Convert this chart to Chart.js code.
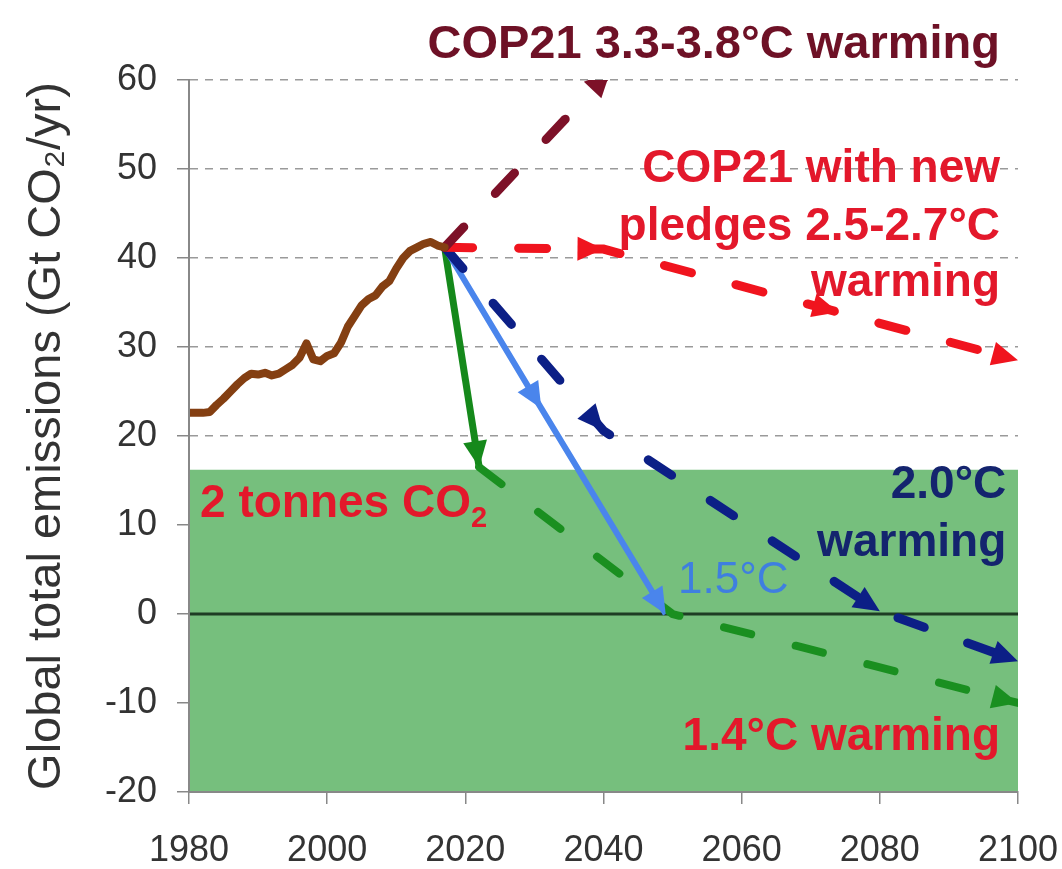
<!DOCTYPE html>
<html><head><meta charset="utf-8">
<script src="https://cdn.jsdelivr.net/npm/chart.js@4.4.0/dist/chart.umd.min.js"></script>
<style>html,body{margin:0;padding:0;background:#fff;}#wrap{width:1062px;height:869px;position:relative;}</style>
</head><body><div id="wrap"><canvas id="c"></canvas></div>
<script>
// ---- data ----
const historyYears = [1980,1981,1982,1983,1984,1985,1986,1987,1988,1989,1990,1991,1992,1993,1994,1995,1996,1997,1998,1999,2000,2001,2002,2003,2004,2005,2006,2007,2008,2009,2010,2011,2012,2013,2014,2015,2016,2017];
const historyValues = [22.6,22.6,22.6,22.7,23.5,24.2,25.0,25.8,26.5,27.0,26.9,27.1,26.8,27.0,27.5,28.0,28.8,30.4,28.6,28.4,29.0,29.3,30.5,32.3,33.5,34.7,35.4,35.8,36.8,37.4,38.8,40.0,40.8,41.2,41.6,41.8,41.4,41.2];
const cop21Years = [2017, 2041];
const cop21Values = [41.2, 61];
const pledgeYears = [2017, 2040, 2074, 2100];
const pledgeValues = [41.2, 41, 33.9, 28.5];
const twoDegYears = [2017, 2040, 2080, 2100];
const twoDegValues = [41.2, 20.6, 0.3, -5.3];
const onePointFiveYears = [2017, 2031, 2049];
const onePointFiveValues = [41.2, 23.1, 0];
const fastCutYears = [2017, 2022];
const fastCutValues = [41.2, 16.5];
const fastTailYears = [2022, 2050, 2100];
const fastTailValues = [16.5, 0, -10];
const budgetBandYears = [1980, 2100];
const budgetBandValues = [16.2, 16.2];
const zeroLineYears = [1980, 2100];
const zeroLineValues = [0, 0];
const xTickValues = [1980, 2000, 2020, 2040, 2060, 2080, 2100];
const yTickValues = [-20, -10, 0, 10, 20, 30, 40, 50, 60];
const yAxisTitle = 'Global total emissions (Gt CO\u2082/yr)';

const pts = (xs, ys) => xs.map((x, i) => ({x: x, y: ys[i]}));
const FONT = "'Liberation Sans', Arial, Helvetica, sans-serif";
Chart.defaults.font.family = FONT;

// text annotations (anchored in data coordinates)
const annotations = [
  {parts:[{t:'COP21 3.3-3.8\u00B0C warming'}], year:2097.4, value:62.5, align:'right', color:'#6e1126', size:47, weight:'bold'},
  {parts:[{t:'COP21 with new'}], year:2097.4, value:48.5, align:'right', color:'#e3182b', size:46, weight:'bold'},
  {parts:[{t:'pledges 2.5-2.7\u00B0C'}], year:2097.4, value:42.0, align:'right', color:'#e3182b', size:46, weight:'bold'},
  {parts:[{t:'warming'}], year:2097.4, value:35.7, align:'right', color:'#e3182b', size:46, weight:'bold'},
  {parts:[{t:'2 tonnes CO'},{t:'2', sub:true}], year:1981.6, value:10.9, align:'left', color:'#e3182b', size:46, weight:'bold'},
  {parts:[{t:'2.0\u00B0C'}], year:2098.3, value:13.0, align:'right', color:'#14246e', size:46, weight:'bold'},
  {parts:[{t:'warming'}], year:2098.3, value:6.5, align:'right', color:'#14246e', size:46, weight:'bold'},
  {parts:[{t:'1.5\u00B0C'}], year:2050.8, value:2.4, align:'left', color:'#3f7fe0', size:44, weight:'normal'},
  {parts:[{t:'1.4\u00B0C warming'}], year:2097.4, value:-15.3, align:'right', color:'#e3182b', size:46, weight:'bold'}
];

const arrowPlugin = {
  id: 'arrows',
  afterDatasetsDraw(chart) {
    const ctx = chart.ctx, a = chart.chartArea;
    ctx.save();
    ctx.beginPath(); ctx.rect(a.left, a.top, a.right - a.left, a.bottom - a.top); ctx.clip();
    chart.data.datasets.forEach((ds, di) => {
      if (!ds.arrowAt) return;
      const meta = chart.getDatasetMeta(di);
      ds.arrowAt.forEach(idx => {
        const p = meta.data[idx], q = meta.data[idx - 1];
        const dx = p.x - q.x, dy = p.y - q.y, len = Math.hypot(dx, dy);
        const ux = dx / len, uy = dy / len;
        const L = ds.arrowLen || 26, W = ds.arrowHalf || 12;
        const bx = p.x - ux * L, by = p.y - uy * L;
        ctx.fillStyle = ds.borderColor;
        ctx.beginPath();
        ctx.moveTo(p.x, p.y);
        ctx.lineTo(bx - uy * W, by + ux * W);
        ctx.lineTo(bx + uy * W, by - ux * W);
        ctx.closePath();
        ctx.fill();
      });
    });
    ctx.restore();
  }
};

const textPlugin = {
  id: 'texts',
  afterDraw(chart) {
    const ctx = chart.ctx, xs = chart.scales.x, ys = chart.scales.y;
    ctx.save();
    ctx.textBaseline = 'alphabetic';
    annotations.forEach(an => {
      const x0 = xs.getPixelForValue(an.year), y0 = ys.getPixelForValue(an.value);
      const widths = an.parts.map(p => {
        ctx.font = an.weight + ' ' + (p.sub ? Math.round(an.size * 0.62) : an.size) + 'px ' + FONT;
        return ctx.measureText(p.t).width;
      });
      const total = widths.reduce((s, w) => s + w, 0);
      let x = an.align === 'right' ? x0 - total : x0;
      ctx.fillStyle = an.color;
      ctx.textAlign = 'left';
      an.parts.forEach((p, i) => {
        ctx.font = an.weight + ' ' + (p.sub ? Math.round(an.size * 0.62) : an.size) + 'px ' + FONT;
        ctx.fillText(p.t, x, p.sub ? y0 + an.size * 0.22 : y0);
        x += widths[i];
      });
    });
    ctx.restore();
  }
};

const dashed = [28, 46];
new Chart(document.getElementById('c'), {
  type: 'line',
  data: {
    datasets: [
      {data: pts(historyYears, historyValues), borderColor: '#843f12', borderWidth: 8, borderJoinStyle: 'round', borderCapStyle: 'round'},
      {data: pts(cop21Years, cop21Values), borderColor: '#7d1128', borderWidth: 9, borderDash: dashed, borderCapStyle: 'round', arrowAt: [1]},
      {data: pts(pledgeYears, pledgeValues), borderColor: '#f0141e', borderWidth: 9, borderDash: dashed, borderCapStyle: 'round', arrowAt: [1, 2, 3]},
      {data: pts(twoDegYears, twoDegValues), borderColor: '#0c1f86', borderWidth: 9, borderDash: dashed, borderCapStyle: 'round', arrowAt: [1, 2, 3]},
      {data: pts(fastTailYears, fastTailValues), borderColor: '#1a8f20', borderWidth: 8, borderDash: dashed, borderCapStyle: 'round', arrowAt: [2]},
      {data: pts(onePointFiveYears, onePointFiveValues), borderColor: '#4a85ec', borderWidth: 6, arrowAt: [1, 2], arrowLen: 26, arrowHalf: 12},
      {data: pts(fastCutYears, fastCutValues), borderColor: '#15891b', borderWidth: 7, arrowAt: [1], arrowLen: 26, arrowHalf: 12},
      {data: pts(zeroLineYears, zeroLineValues), borderColor: '#1e3d24', borderWidth: 3, order: 9},
      {data: pts(budgetBandYears, budgetBandValues), borderWidth: 0, borderColor: 'rgba(0,0,0,0)', backgroundColor: '#76bf7d', fill: 'start', order: 10}
    ]
  },
  options: {
    responsive: true, maintainAspectRatio: false, animation: false,
    layout: {padding: {top: 80, right: 44, left: 0, bottom: 0}},
    elements: {point: {radius: 0, hoverRadius: 0}, line: {tension: 0}},
    plugins: {legend: {display: false}, tooltip: {enabled: false}},
    scales: {
      x: {
        type: 'linear', min: 1980, max: 2100,
        afterBuildTicks: s => { s.ticks = xTickValues.map(v => ({value: v})); },
        afterFit: s => { s.height = 77; s.paddingLeft = 0; s.paddingRight = 0; },
        ticks: {color: '#333', font: {size: 36}, padding: 25, maxRotation: 0, autoSkip: false, callback: v => String(v)},
        grid: {drawOnChartArea: false, drawTicks: true, tickLength: 12, color: '#888', lineWidth: 1.5},
        border: {display: true, color: '#888', width: 2, z: 1}
      },
      y: {
        min: -20, max: 60,
        afterBuildTicks: s => { s.ticks = yTickValues.map(v => ({value: v})); },
        afterFit: s => { s.width = 189; s.paddingTop = 0; s.paddingBottom = 0; },
        ticks: {color: '#333', font: {size: 36}, padding: 20, callback: v => String(v)},
        grid: {drawOnChartArea: true, drawTicks: true, tickLength: 12, color: '#9a9a9a', lineWidth: 1.5, tickColor: '#888', tickBorderDash: []},
        border: {display: true, color: '#888', width: 2, z: 1, dash: [8, 7]},
        title: {display: true, text: yAxisTitle, color: '#333', font: {size: 47}, padding: {top: 19, bottom: 0}}
      }
    }
  },
  plugins: [arrowPlugin, textPlugin]
});
</script></body></html>
